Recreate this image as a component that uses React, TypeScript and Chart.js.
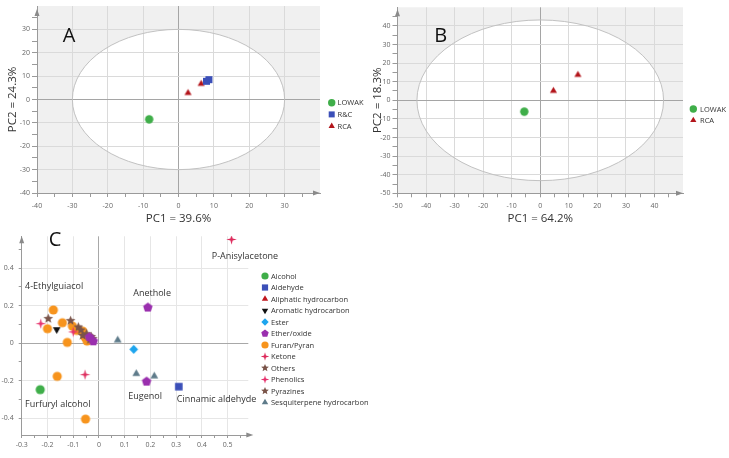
import React, { useEffect, useRef } from 'react';
import { Chart, registerables } from 'chart.js';

Chart.register(...registerables);

type Pt = { x: number; y: number };
type Shape = 'circle' | 'square' | 'triangle' | 'triangleDown' | 'diamond' | 'pentagon' | 'star5' | 'star4';

const FONT = '"Open Sans", "Noto Sans", "DejaVu Sans", sans-serif';

// ================= Panel A data =================
const A_LOWAK: Pt[] = [{ x: -8.3, y: -8.5 }];
const A_RC: Pt[] = [{ x: 7.9, y: 7.8 }, { x: 8.6, y: 8.5 }];
const A_RCA: Pt[] = [{ x: 2.7, y: 2.8 }, { x: 6.4, y: 6.7 }];
const A_SERIES_NAMES = ['LOWAK', 'R&C', 'RCA'];
const A_TICK_LABELS = [-40, -30, -20, -10, 0, 10, 20, 30];
const A_MIN = -40;
const A_MAX = 40;
const A_MINOR = 5;
const A_ELLIPSE = 30;
const A_XTITLE = 'PC1 = 39.6%';
const A_YTITLE = 'PC2 = 24.3%';

// ================= Panel B data =================
const B_LOWAK: Pt[] = [{ x: -5.6, y: -6.1 }];
const B_RCA: Pt[] = [{ x: 4.6, y: 5.1 }, { x: 13.2, y: 13.7 }];
const B_SERIES_NAMES = ['LOWAK', 'RCA'];
const B_TICK_LABELS = [-50, -40, -30, -20, -10, 0, 10, 20, 30, 40];
const B_MIN = -50;
const B_MAX = 50;
const B_MINOR = 5;
const B_ELLIPSE = 43.2;
const B_XTITLE = 'PC1 = 64.2%';
const B_YTITLE = 'PC2 = 18.3%';

// ================= Panel C data =================
const C_CATEGORIES = [
  'Alcohol', 'Aldehyde', 'Aliphatic hydrocarbon', 'Aromatic hydrocarbon', 'Ester', 'Ether/oxide',
  'Furan/Pyran', 'Ketone', 'Others', 'Phenolics', 'Pyrazines', 'Sesquiterpene hydrocarbon',
];
const C_ALCOHOL: Pt[] = [{ x: -0.228, y: -0.248 }];
const C_ALDEHYDE: Pt[] = [{ x: 0.31, y: -0.232 }];
const C_ALIPHATIC: Pt[] = [];
const C_AROMATIC: Pt[] = [{ x: -0.164, y: 0.073 }];
const C_ESTER: Pt[] = [{ x: 0.135, y: -0.033 }];
const C_ETHER: Pt[] = [
  { x: 0.19, y: 0.19 }, { x: 0.185, y: -0.205 }, { x: -0.037, y: 0.032 }, { x: -0.022, y: 0.01 },
];
const C_FURAN: Pt[] = [
  { x: -0.177, y: 0.177 }, { x: -0.142, y: 0.109 }, { x: -0.2, y: 0.077 }, { x: -0.123, y: 0.004 },
  { x: -0.162, y: -0.177 }, { x: -0.052, y: -0.405 }, { x: -0.103, y: 0.091 }, { x: -0.086, y: 0.068 },
  { x: -0.063, y: 0.064 }, { x: -0.054, y: 0.032 }, { x: -0.046, y: 0.011 },
];
const C_KETONE: Pt[] = [{ x: 0.515, y: 0.553 }, { x: -0.054, y: -0.168 }];
const C_OTHERS: Pt[] = [
  { x: -0.197, y: 0.131 }, { x: -0.11, y: 0.12 }, { x: -0.08, y: 0.086 }, { x: -0.063, y: 0.041 },
  { x: -0.048, y: 0.05 }, { x: -0.035, y: 0.018 }, { x: -0.024, y: 0.024 },
];
const C_PHENOLICS: Pt[] = [{ x: -0.226, y: 0.104 }, { x: -0.1, y: 0.06 }];
const C_PYRAZINES: Pt[] = [{ x: -0.07, y: 0.07 }, { x: -0.03, y: 0.035 }];
const C_SESQUI: Pt[] = [{ x: 0.073, y: 0.016 }, { x: 0.145, y: -0.163 }, { x: 0.215, y: -0.176 }];
const C_SERIES = [
  C_ALCOHOL, C_ALDEHYDE, C_ALIPHATIC, C_AROMATIC, C_ESTER, C_ETHER,
  C_FURAN, C_KETONE, C_OTHERS, C_PHENOLICS, C_PYRAZINES, C_SESQUI,
];
const C_X_TICK_LABELS = [-0.3, -0.2, -0.1, 0, 0.1, 0.2, 0.3, 0.4, 0.5];
const C_Y_TICK_LABELS = [-0.4, -0.2, 0, 0.2, 0.4];
const C_X_MIN = -0.3;
const C_X_MAX = 0.58;
const C_Y_MIN = -0.49;
const C_Y_MAX = 0.57;
const C_NOTE_TEXTS = ['4-Ethylguiacol', 'Anethole', 'P-Anisylacetone', 'Furfuryl alcohol', 'Eugenol', 'Cinnamic aldehyde'];
const C_NOTE_X = [-0.287, 0.133, 0.438, -0.287, 0.114, 0.302];
const C_NOTE_Y = [0.3, 0.264, 0.464, -0.328, -0.285, -0.3];

// ================= styles =================
const A_STYLES = [
  { shape: 'circle' as Shape, color: '#3fae49', r: 4.2, lr: 3.7 },
  { shape: 'square' as Shape, color: '#3b4fb8', r: 3.5, lr: 3.0 },
  { shape: 'triangle' as Shape, color: '#b3151b', r: 4.1, lr: 3.6 },
];
const B_STYLES = [A_STYLES[0], A_STYLES[2]];
const C_STYLES = [
  { shape: 'circle' as Shape, color: '#3fae49', r: 4.6, lr: 3.6, order: 3 },
  { shape: 'square' as Shape, color: '#3b4fb8', r: 3.8, lr: 3.1, order: 3 },
  { shape: 'triangle' as Shape, color: '#c0161d', r: 4.2, lr: 3.7, order: 3 },
  { shape: 'triangleDown' as Shape, color: '#111111', r: 4.4, lr: 3.7, order: 3 },
  { shape: 'diamond' as Shape, color: '#1ea5ee', r: 4.4, lr: 3.7, order: 3 },
  { shape: 'pentagon' as Shape, color: '#9a2fae', r: 5.0, lr: 3.9, order: 1 },
  { shape: 'circle' as Shape, color: '#f7941d', r: 4.6, lr: 3.6, order: 9 },
  { shape: 'star4' as Shape, color: '#dd2a5b', r: 5.3, lr: 4.3, order: 2 },
  { shape: 'star5' as Shape, color: '#7a5449', r: 5.1, lr: 4.1, order: 4 },
  { shape: 'star4' as Shape, color: '#e6306b', r: 5.3, lr: 4.3, order: 2 },
  { shape: 'star5' as Shape, color: '#7a5449', r: 5.1, lr: 4.1, order: 4 },
  { shape: 'triangle' as Shape, color: '#5e7b8a', r: 4.5, lr: 3.7, order: 3 },
];

// ================= helpers =================
function shapePath(ctx: CanvasRenderingContext2D, shape: Shape, cx: number, cy: number, r: number) {
  ctx.beginPath();
  const poly = (n: number, radii: number[], rot = -Math.PI / 2) => {
    for (let i = 0; i < n; i++) {
      const rr = radii[i % radii.length];
      const a = rot + (i * 2 * Math.PI) / n;
      const px = cx + rr * Math.cos(a);
      const py = cy + rr * Math.sin(a);
      if (i === 0) ctx.moveTo(px, py);
      else ctx.lineTo(px, py);
    }
    ctx.closePath();
  };
  switch (shape) {
    case 'circle': ctx.arc(cx, cy, r, 0, Math.PI * 2); break;
    case 'square': ctx.rect(cx - r, cy - r, 2 * r, 2 * r); break;
    case 'triangle': poly(3, [r]); break;
    case 'triangleDown': poly(3, [r], Math.PI / 2); break;
    case 'diamond': poly(4, [r]); break;
    case 'pentagon': poly(5, [r]); break;
    case 'star5': poly(10, [r, r * 0.45]); break;
    case 'star4': poly(8, [r, r * 0.3]); break;
  }
}

function makeMarker(shape: Shape, color: string, r: number) {
  const s = Math.ceil(2 * r + 2);
  const c = document.createElement('canvas');
  c.width = s;
  c.height = s;
  const ctx = c.getContext('2d')!;
  ctx.fillStyle = color;
  shapePath(ctx, shape, s / 2, s / 2, r);
  ctx.fill();
  return c;
}

const near = (a: number, b: number) => Math.abs(a - b) < 1e-9;

function makeAxis(o: {
  min: number; max: number; start: number; step: number; labels: number[];
  fit: (s: any) => void; tickLength: number; pad: number;
  grid: string; zero: string; title?: string; titlePadding?: any;
}) {
  const isLabel = (v: number) => o.labels.some((l) => near(l, v));
  return {
    type: 'linear',
    min: o.min,
    max: o.max,
    afterBuildTicks: (s: any) => {
      const t: { value: number }[] = [];
      for (let i = 0; i < 1000; i++) {
        const v = Math.round((o.start + i * o.step) * 1e6) / 1e6;
        if (v > o.max - 1e-9) break;
        t.push({ value: v });
      }
      s.ticks = t;
    },
    afterFit: o.fit,
    grid: {
      color: (c: any) => {
        const v = c.tick ? c.tick.value : NaN;
        if (near(v, 0)) return o.zero;
        return isLabel(v) ? o.grid : 'rgba(0,0,0,0)';
      },
      tickColor: '#9a9a9a',
      tickLength: o.tickLength,
      lineWidth: 1,
    },
    border: { display: true, color: '#9a9a9a', width: 1 },
    ticks: {
      autoSkip: false,
      maxRotation: 0,
      minRotation: 0,
      padding: o.pad,
      color: '#666',
      font: { family: FONT, size: 7, lineHeight: 1 },
      callback: (v: number) => (isLabel(v) ? String(v) : ''),
    },
    title: o.title
      ? { display: true, text: o.title, color: '#333', font: { family: FONT, size: 11.5 }, padding: o.titlePadding }
      : { display: false },
  };
}

function decorPlugin(cfg: any) {
  const ellipsePath = (ctx: CanvasRenderingContext2D, x: any, y: any, r: number) => {
    const cx = x.getPixelForValue(0);
    const cy = y.getPixelForValue(0);
    const rx = x.getPixelForValue(r) - cx;
    const ry = cy - y.getPixelForValue(r);
    ctx.beginPath();
    ctx.ellipse(cx, cy, rx, ry, 0, 0, Math.PI * 2);
  };
  return {
    id: 'decor',
    beforeDraw(chart: any) {
      const { ctx, chartArea: a, scales } = chart;
      ctx.save();
      if (cfg.bg) {
        ctx.fillStyle = cfg.bg;
        ctx.fillRect(a.left, a.top, a.right - a.left, a.bottom - a.top);
      }
      if (cfg.ellipse) {
        ellipsePath(ctx, scales.x, scales.y, cfg.ellipse);
        ctx.fillStyle = '#ffffff';
        ctx.fill();
      }
      ctx.restore();
    },
    beforeDatasetsDraw(chart: any) {
      const { ctx, chartArea: a, scales } = chart;
      ctx.save();
      if (cfg.ellipse) {
        ellipsePath(ctx, scales.x, scales.y, cfg.ellipse);
        ctx.strokeStyle = '#c2c2c2';
        ctx.lineWidth = 1;
        ctx.stroke();
      }
      ctx.fillStyle = '#8a8a8a';
      const ty = a.top + cfg.arrowTop;
      ctx.beginPath();
      ctx.moveTo(a.left, ty);
      ctx.lineTo(a.left - 2.5, ty + 7);
      ctx.lineTo(a.left + 2.5, ty + 7);
      ctx.closePath();
      ctx.fill();
      const tx = a.right + cfg.arrowRight;
      ctx.beginPath();
      ctx.moveTo(tx, a.bottom);
      ctx.lineTo(tx - 7, a.bottom - 2.5);
      ctx.lineTo(tx - 7, a.bottom + 2.5);
      ctx.closePath();
      ctx.fill();
      ctx.restore();
    },
    afterDraw(chart: any) {
      const { ctx, scales } = chart;
      ctx.save();
      ctx.fillStyle = '#111';
      ctx.font = `20px ${FONT}`;
      ctx.textAlign = 'center';
      ctx.textBaseline = 'middle';
      ctx.fillText(cfg.letter.text, cfg.letter.x, cfg.letter.y);
      const lg = cfg.legend;
      ctx.font = `${lg.fontSize}px ${FONT}`;
      ctx.textAlign = 'left';
      lg.items.forEach((it: any, i: number) => {
        const yy = lg.y0 + i * lg.dy;
        ctx.fillStyle = it.color;
        shapePath(ctx, it.shape, lg.markerX, yy, it.r);
        ctx.fill();
        ctx.fillStyle = '#333';
        ctx.fillText(it.label, lg.textX, yy + 0.5);
      });
      if (cfg.notes) {
        ctx.font = `9px ${FONT}`;
        ctx.fillStyle = '#333';
        ctx.textAlign = 'left';
        cfg.notes.texts.forEach((t: string, i: number) => {
          ctx.fillText(t, scales.x.getPixelForValue(cfg.notes.xs[i]), scales.y.getPixelForValue(cfg.notes.ys[i]));
        });
      }
      ctx.restore();
    },
  };
}

function pcaConfig(p: any) {
  const datasets = p.series.map((data: Pt[], i: number) => ({
    label: p.names[i],
    data,
    pointStyle: makeMarker(p.styles[i].shape, p.styles[i].color, p.styles[i].r),
    pointRadius: 5,
    pointHoverRadius: 5,
    order: p.styles[i].order ?? i,
  }));
  return {
    type: 'scatter',
    data: { datasets },
    options: {
      responsive: false,
      animation: false,
      events: [],
      layout: { padding: { left: 0, top: p.area.top, right: p.W - p.area.right, bottom: 0 } },
      plugins: { legend: { display: false }, tooltip: { enabled: false } },
      scales: {
        x: makeAxis({
          min: p.xMin, max: p.xMax, start: p.xStart, step: p.xStep, labels: p.xLabels,
          fit: (s: any) => { s.height = p.H - p.area.bottom; },
          tickLength: p.xTickLen, pad: p.xPad, grid: p.grid, zero: p.zero,
          title: p.xTitle, titlePadding: { top: 0, bottom: 4 },
        }),
        y: makeAxis({
          min: p.yMin, max: p.yMax, start: p.yStart, step: p.yStep, labels: p.yLabels,
          fit: (s: any) => { s.width = p.area.left; },
          tickLength: p.yTickLen, pad: p.yPad, grid: p.grid, zero: p.zero,
          title: p.yTitle, titlePadding: { top: p.yTitlePad, bottom: 0 },
        }),
      },
    },
    plugins: [
      decorPlugin({
        bg: p.bg,
        ellipse: p.ellipse,
        arrowTop: p.arrowTop,
        arrowRight: p.arrowRight,
        letter: p.letter,
        legend: {
          ...p.legend,
          items: p.names.map((n: string, i: number) => ({ label: n, shape: p.styles[i].shape, color: p.styles[i].color, r: p.styles[i].lr })),
        },
        notes: p.notes,
      }),
    ],
  };
}

function configA() {
  return pcaConfig({
    W: 370, H: 230, area: { left: 37, right: 320, top: 6, bottom: 193 },
    series: [A_LOWAK, A_RC, A_RCA], names: A_SERIES_NAMES, styles: A_STYLES,
    xMin: A_MIN, xMax: A_MAX, xStart: A_MIN, xStep: A_MINOR, xLabels: A_TICK_LABELS,
    yMin: A_MIN, yMax: A_MAX, yStart: A_MIN, yStep: A_MINOR, yLabels: A_TICK_LABELS,
    xTickLen: 4, xPad: 5, yTickLen: 5, yPad: 2,
    grid: '#dadada', zero: '#a5a5a5', bg: '#f0f0f0', ellipse: A_ELLIPSE,
    xTitle: A_XTITLE, yTitle: A_YTITLE, yTitlePad: 6,
    arrowTop: 3, arrowRight: 0,
    letter: { text: 'A', x: 69, y: 36 },
    legend: { markerX: 331.7, textX: 337.5, y0: 102.7, dy: 11.7, fontSize: 7.5 },
  });
}

function configB() {
  return pcaConfig({
    W: 367, H: 230, area: { left: 35.5, right: 321, top: 7.3, bottom: 193.3 },
    series: [B_LOWAK, B_RCA], names: B_SERIES_NAMES, styles: B_STYLES,
    xMin: B_MIN, xMax: B_MAX, xStart: B_MIN, xStep: B_MINOR, xLabels: B_TICK_LABELS,
    yMin: B_MIN, yMax: B_MAX, yStart: B_MIN, yStep: B_MINOR, yLabels: B_TICK_LABELS,
    xTickLen: 4, xPad: 5, yTickLen: 5, yPad: 2,
    grid: '#dadada', zero: '#a5a5a5', bg: '#f0f0f0', ellipse: B_ELLIPSE,
    xTitle: B_XTITLE, yTitle: B_YTITLE, yTitlePad: 9,
    arrowTop: 2, arrowRight: 0,
    letter: { text: 'B', x: 78.7, y: 36 },
    legend: { markerX: 331.3, textX: 338, y0: 109, dy: 11.3, fontSize: 7.5 },
  });
}

function configC() {
  return pcaConfig({
    W: 370, H: 233, area: { left: 21.7, right: 248.3, top: 11.3, bottom: 210 },
    series: C_SERIES, names: C_CATEGORIES, styles: C_STYLES,
    xMin: C_X_MIN, xMax: C_X_MAX, xStart: -0.3, xStep: 0.05, xLabels: C_X_TICK_LABELS,
    yMin: C_Y_MIN, yMax: C_Y_MAX, yStart: -0.4, yStep: 0.1, yLabels: C_Y_TICK_LABELS,
    xTickLen: 3, xPad: 3, yTickLen: 3, yPad: 5,
    grid: '#e6e6e6', zero: '#a8a8a8', bg: null, ellipse: null,
    xTitle: undefined, yTitle: undefined, yTitlePad: 0,
    arrowTop: 0, arrowRight: 5,
    letter: { text: 'C', x: 55, y: 15 },
    legend: { markerX: 265, textX: 271, y0: 51, dy: 11.5, fontSize: 7.5 },
    notes: { texts: C_NOTE_TEXTS, xs: C_NOTE_X, ys: C_NOTE_Y },
  });
}

function ChartCanvas(props: { left: number; top: number; width: number; height: number; make: () => any }) {
  const ref = useRef<HTMLCanvasElement | null>(null);
  useEffect(() => {
    if (!ref.current) return;
    const chart = new Chart(ref.current, props.make());
    return () => chart.destroy();
  }, []);
  return (
    <canvas
      ref={ref}
      width={props.width}
      height={props.height}
      style={{ position: 'absolute', left: props.left, top: props.top, width: props.width, height: props.height }}
    />
  );
}

export default function App() {
  return (
    <div style={{ position: 'fixed', left: 0, top: 0, width: 729, height: 458, background: '#fff', overflow: 'hidden' }}>
      <ChartCanvas left={0} top={0} width={370} height={230} make={configA} />
      <ChartCanvas left={362} top={0} width={367} height={230} make={configB} />
      <ChartCanvas left={0} top={225} width={370} height={233} make={configC} />
    </div>
  );
}
